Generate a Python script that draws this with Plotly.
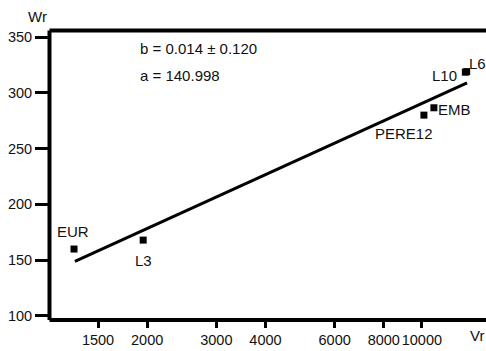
import plotly.graph_objects as go
import math

# Observed points
labels = ["EUR", "L3", "PERE12", "EMB", "L10", "L6"]
vr = [1303, 1954, 10120, 10730, 12900, 13000]
wr = [160, 168, 280, 286.6, 318.5, 319]

# Fitted regression line end points
fit_vr = [1310, 13030]
fit_wr = [149, 309]

# Label offsets (pixels) relative to each marker
label_dx = [-1, 0, -20, 21, -21, 11]
label_dy = [-18, 20, 18, 2, 3, -8]

x_ticks = [1500, 2000, 3000, 4000, 6000, 8000, 10000]
y_ticks = [100, 150, 200, 250, 300, 350]

stats_text = ["b = 0.014 ± 0.120", "a = 140.998"]

font = dict(family="Liberation Sans, Arial, sans-serif", size=15, color="#111111")
tick_font = dict(font, size=14.5)

W, H = 486, 351
L, R, T, B = 50, 0, 31, 32
pw, ph = W - L - R, H - T - B


def px_to_paper(x, y):
    return (x - L) / pw, (H - y - B) / ph


fig = go.Figure()
fig.add_trace(go.Scatter(x=fit_vr, y=fit_wr, mode="lines",
                         line=dict(color="black", width=3), showlegend=False))
fig.add_trace(go.Scatter(x=vr, y=wr, mode="markers",
                         marker=dict(symbol="square", size=7, color="black"),
                         showlegend=False))

for name, x, y, dx, dy in zip(labels, vr, wr, label_dx, label_dy):
    fig.add_annotation(x=math.log10(x), y=y, xref="x", yref="y", text=name,
                       showarrow=False, xshift=dx, yshift=-dy, font=font,
                       xanchor="center", yanchor="middle")

for i, t in enumerate(stats_text):
    px, py = px_to_paper(138, 48 + 27 * i)
    fig.add_annotation(x=px, y=py, xref="paper", yref="paper", text=t,
                       showarrow=False, xanchor="left", yanchor="middle", font=font)

for t, (x, y) in [("Wr", (37, 17)), ("Vr", (477, 335))]:
    px, py = px_to_paper(x, y)
    fig.add_annotation(x=px, y=py, xref="paper", yref="paper", text=t,
                       showarrow=False, xanchor="center", yanchor="middle", font=font)

# Heavy frame: left, top and bottom edges (no right edge)
x_left, y_top = px_to_paper(49.5, 30.5)
x_right, y_bot = px_to_paper(486, 320)
frame = dict(type="line", xref="paper", yref="paper", layer="above",
             line=dict(color="black", width=4))
fig.add_shape(x0=x_left, x1=x_left, y0=y_bot, y1=y_top, **frame)
fig.add_shape(x0=x_left, x1=x_right, y0=y_top, y1=y_top, **frame)
fig.add_shape(x0=x_left, x1=x_right, y0=y_bot, y1=y_bot, **frame)

fig.update_xaxes(type="log", range=[math.log10(1132), math.log10(14560)],
                 tickvals=x_ticks, ticktext=[str(v) for v in x_ticks],
                 tickangle=0, automargin=False,
                 showgrid=False, zeroline=False, showline=False,
                 ticks="outside", ticklen=8, tickwidth=3, tickcolor="black",
                 tickfont=tick_font)
fig.update_yaxes(range=[97.3, 355.4], tickvals=y_ticks, automargin=False,
                 showgrid=False, zeroline=False, showline=False,
                 ticks="outside", ticklen=14, tickwidth=3, tickcolor="black",
                 tickfont=tick_font)

fig.update_layout(width=W, height=H, margin=dict(l=L, r=R, t=T, b=B),
                  plot_bgcolor="white", paper_bgcolor="white")

fig.write_html("out.html")
